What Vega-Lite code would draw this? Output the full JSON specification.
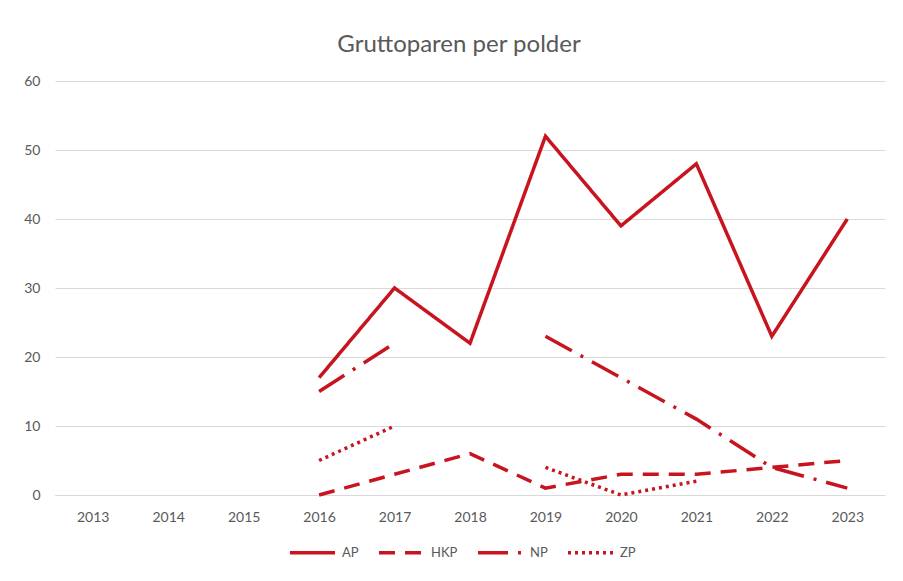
{
  "$schema": "https://vega.github.io/schema/vega-lite/v6.json",
  "width": 830,
  "height": 414,
  "autosize": {"type": "none"},
  "padding": {"left": 55, "top": 81, "right": 18, "bottom": 86},
  "background": "white",
  "title": {"text": "Gruttoparen per polder", "fontSize": 24, "font": "Lato", "fontWeight": "normal", "color": "#595959", "offset": 17, "dx": -11},
  "data": {"values": [
    {"jaar": "2016", "polder": "AP", "paren": 17},
    {"jaar": "2017", "polder": "AP", "paren": 30},
    {"jaar": "2018", "polder": "AP", "paren": 22},
    {"jaar": "2019", "polder": "AP", "paren": 52},
    {"jaar": "2020", "polder": "AP", "paren": 39},
    {"jaar": "2021", "polder": "AP", "paren": 48},
    {"jaar": "2022", "polder": "AP", "paren": 23},
    {"jaar": "2023", "polder": "AP", "paren": 40},
    {"jaar": "2016", "polder": "HKP", "paren": 0},
    {"jaar": "2017", "polder": "HKP", "paren": 3},
    {"jaar": "2018", "polder": "HKP", "paren": 6},
    {"jaar": "2019", "polder": "HKP", "paren": 1},
    {"jaar": "2020", "polder": "HKP", "paren": 3},
    {"jaar": "2021", "polder": "HKP", "paren": 3},
    {"jaar": "2022", "polder": "HKP", "paren": 4},
    {"jaar": "2023", "polder": "HKP", "paren": 5},
    {"jaar": "2016", "polder": "NP", "paren": 15},
    {"jaar": "2017", "polder": "NP", "paren": 22},
    {"jaar": "2018", "polder": "NP", "paren": null},
    {"jaar": "2019", "polder": "NP", "paren": 23},
    {"jaar": "2020", "polder": "NP", "paren": 17},
    {"jaar": "2021", "polder": "NP", "paren": 11},
    {"jaar": "2022", "polder": "NP", "paren": 4},
    {"jaar": "2023", "polder": "NP", "paren": 1},
    {"jaar": "2016", "polder": "ZP", "paren": 5},
    {"jaar": "2017", "polder": "ZP", "paren": 10},
    {"jaar": "2018", "polder": "ZP", "paren": null},
    {"jaar": "2019", "polder": "ZP", "paren": 4},
    {"jaar": "2020", "polder": "ZP", "paren": 0},
    {"jaar": "2021", "polder": "ZP", "paren": 2}
  ]},
  "mark": {"type": "line", "strokeWidth": 3.5, "color": "#C8141E", "strokeCap": "butt"},
  "encoding": {
    "x": {
      "field": "jaar", "type": "ordinal",
      "scale": {"type": "point", "padding": 0.5, "domain": ["2013","2014","2015","2016","2017","2018","2019","2020","2021","2022","2023"]},
      "axis": {"title": null, "labelAngle": 0, "ticks": false, "domain": true, "domainColor": "#d9d9d9", "labelColor": "#595959", "labelFont": "Lato", "labelFontSize": 14, "labelPadding": 15, "grid": false, "labelOverlap": false}
    },
    "y": {
      "field": "paren", "type": "quantitative",
      "scale": {"domain": [0, 60]},
      "axis": {"title": null, "values": [0,10,20,30,40,50,60], "ticks": false, "domain": false, "gridColor": "#d9d9d9", "labelColor": "#595959", "labelFont": "Lato", "labelFontSize": 14, "labelPadding": 15, "labelOverlap": false}
    },
    "strokeDash": {
      "field": "polder", "type": "nominal",
      "scale": {"domain": ["AP","HKP","NP","ZP"], "range": [[1,0],[16,10],[30,10,3,10],[3,4]]},
      "legend": {
        "title": null, "orient": "none", "direction": "horizontal", "legendX": 233, "legendY": 447,
        "symbolType": "stroke", "symbolSize": 2025, "symbolStrokeWidth": 3.5, "symbolStrokeColor": "#C8141E",
        "labelColor": "#595959", "labelFont": "Lato", "labelFontSize": 13, "columnPadding": 13, "labelOffset": 5
      }
    }
  },
  "config": {"view": {"stroke": null}}
}
